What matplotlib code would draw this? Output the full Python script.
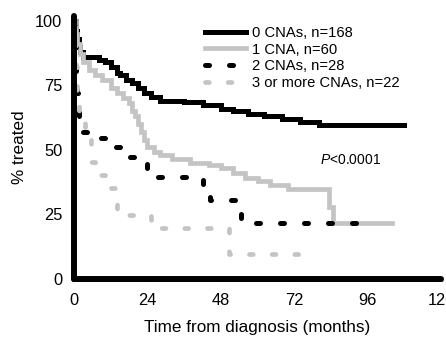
import matplotlib
matplotlib.use("Agg")
import matplotlib.pyplot as plt

plt.rcParams['font.family'] = ['Liberation Sans', 'DejaVu Sans']
plt.rcParams['mathtext.fontset'] = 'custom'
plt.rcParams['mathtext.it'] = 'Liberation Sans:italic'
plt.rcParams['mathtext.rm'] = 'Liberation Sans'

# Kaplan-Meier style step data (months, % treated)
t0 = [0, 0.5, 1, 1.5, 2, 3, 8, 10, 12, 14, 15, 17, 19, 21, 23, 25, 28, 36, 42, 48, 52, 57, 62, 68, 74, 80, 108]
s0 = [100, 96, 93, 90, 88, 86, 85, 84, 82, 80, 79, 77, 76, 74, 72, 70.5, 69, 68.5, 67.5, 66, 65, 64, 63, 62, 61, 59.5, 59.5]

t1 = [0, 0.5, 1, 2, 3, 5, 7, 9, 12, 14, 16, 18, 19, 20, 21, 22, 23, 24, 26, 28, 32, 38, 44, 48, 52, 56, 60, 64, 70, 83.5, 84.5, 104]
s1 = [100, 95, 91, 87, 84, 81, 79, 77, 74, 72, 70, 68, 65, 63, 60, 57, 54, 51, 49, 48, 46.5, 45, 44, 43, 41, 39, 38, 36.5, 35, 28, 21.5, 21.5]

t2 = [0, 0.3, 0.6, 1, 1.5, 3, 7, 12, 17, 24, 42, 44.5, 54.5, 95]
s2 = [100, 90, 80, 72, 63, 57, 54.5, 51, 47.3, 39.5, 35.3, 30.6, 21.7, 21.7]

t3 = [0, 0.3, 0.6, 1, 1.5, 3.5, 5.5, 7, 10, 14, 25, 50.5, 76]
s3 = [100, 91, 82, 73, 64, 55, 45.5, 40.3, 35.3, 24.8, 19.8, 9.7, 9.7]

labels = ['0 CNAs, n=168', '1 CNA, n=60', '2 CNAs, n=28', '3 or more CNAs, n=22']
xticks = [0, 24, 48, 72, 96, 120]
yticks = [0, 25, 50, 75, 100]

black = '#000000'
gray = '#c4c4c4'

fig = plt.figure(figsize=(4.46, 3.43), dpi=100)
ax = fig.add_axes([0.166, 0.187, 0.823, 0.767])

ax.step(t0, s0, where='post', color=black, lw=3.6, label=labels[0], solid_joinstyle='miter')
ax.step(t1, s1, where='post', color=gray, lw=3.4, label=labels[1], solid_joinstyle='miter')
ax.step(t2, s2, where='post', color=black, lw=3.6, dashes=(0.8, 4),
        dash_capstyle='round', label=labels[2])
ax.step(t3, s3, where='post', color=gray, lw=3.4, dashes=(0.8, 4),
        dash_capstyle='round', label=labels[3])

ax.set_xlim(0, 120)
ax.set_ylim(0, 102)
ax.set_xticks(xticks)
ax.set_yticks(yticks)
for side in ['top', 'right']:
    ax.spines[side].set_visible(False)
for side in ['left', 'bottom']:
    ax.spines[side].set_linewidth(4.3)
    ax.spines[side].set_capstyle('round')
ax.tick_params(direction='inout', length=3, width=2.5, labelsize=11.8)
ax.tick_params(axis='x', pad=9)
ax.tick_params(axis='y', pad=7)

ax.set_xlabel('Time from diagnosis (months)', fontsize=12.3, labelpad=8)
ax.set_ylabel('% treated', fontsize=12.3, labelpad=6)

ax.legend(loc='upper left', bbox_to_anchor=(205 / 446, 1 - 26 / 343),
          bbox_transform=fig.transFigure, frameon=False, fontsize=10.6,
          handlelength=2.8, handletextpad=0.4, labelspacing=0.18,
          borderpad=0, borderaxespad=0)

fig.text(320 / 446, 1 - 160 / 343, r'$\it{P}$<0.0001', fontsize=10, va='center')

fig.savefig('out.png', dpi=100)
